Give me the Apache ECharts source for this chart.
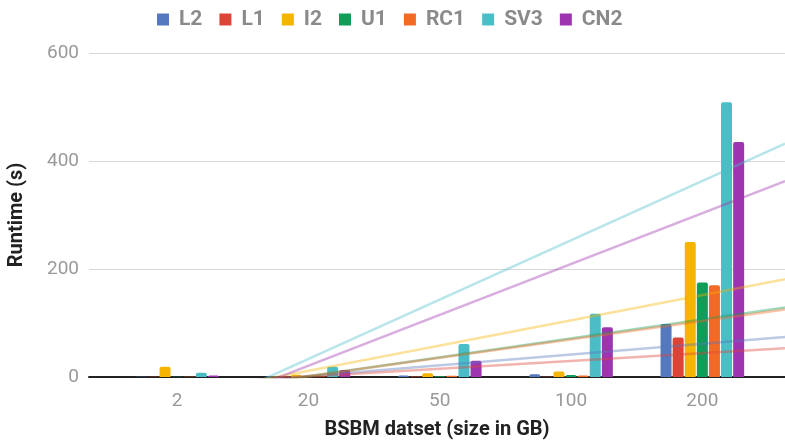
<!DOCTYPE html>
<html>
<head>
<meta charset="UTF-8">
<title>BSBM runtime</title>
<script src="https://cdn.jsdelivr.net/npm/echarts/dist/echarts.min.js"></script>
<style>
  body { margin: 0; padding: 0; background: #fff; }
  #main { width: 785px; height: 445px; }
</style>
</head>
<body>
<div id="main"></div>
<script type="text/javascript">
    // dataset sizes (GB)
    var categories = ['2', '20', '50', '100', '200'];
    var seriesNames = ['L2', 'L1', 'I2', 'U1', 'RC1', 'SV3', 'CN2'];
    var colors = ['#5579be', '#db4437', '#f4b400', '#0f9d58', '#f26b25', '#4bbdc7', '#9e35b0'];

    // runtime in seconds
    var L2  = [0.5, 1, 3, 5, 98];
    var L1  = [0.5, 1, 1, 0.5, 73];
    var I2  = [19, 4, 7, 10, 250];
    var U1  = [0.5, 1, 1.5, 3.5, 175];
    var RC1 = [0.5, 1, 2.5, 3, 170];
    var SV3 = [8, 19, 61, 117, 509];
    var CN2 = [3, 13, 30, 92, 435];
    var allData = [L2, L1, I2, U1, RC1, SV3, CN2];

    var yTicks = [0, 200, 400, 600];

    // linear trend over category index (like the sheet trendline)
    function trend(vals) {
        var n = vals.length, mx = 0, my = 0;
        vals.forEach(function (v, i) { mx += i; my += v; });
        mx /= n; my /= n;
        var sxy = 0, sxx = 0;
        vals.forEach(function (v, i) { sxy += (i - mx) * (v - my); sxx += (i - mx) * (i - mx); });
        var k = sxy / sxx;
        return function (x) { return my + k * (x - mx); };
    }

    var xMin = -0.663, xMax = 4.632;   // index range covered by the outer grid

    var chart = echarts.init(document.getElementById('main'));

    var series = [];
    seriesNames.forEach(function (name, i) {
        series.push({
            name: name,
            type: 'bar',
            xAxisIndex: 1,
            yAxisIndex: 1,
            barWidth: 11,
            barGap: '10%',
            itemStyle: { color: colors[i], borderRadius: [2, 2, 0, 0] },
            data: allData[i]
        });
    });
    seriesNames.forEach(function (name, i) {
        var f = trend(allData[i]);
        series.push({
            name: name,
            type: 'line',
            xAxisIndex: 0,
            yAxisIndex: 0,
            z: 5,
            showSymbol: false,
            symbol: 'none',
            silent: true,
            clip: true,
            lineStyle: { color: colors[i], width: 2.5, opacity: 0.4 },
            data: [[xMin, f(xMin)], [xMax, f(xMax)]]
        });
    });

    var option = {
        textStyle: { fontFamily: 'Roboto' },
        animation: false,
        legend: {
            data: seriesNames,
            top: 4,
            left: 152,
            icon: 'rect',
            itemWidth: 12,
            itemHeight: 12,
            itemGap: 17,
            textStyle: { color: '#8a8a8a', fontSize: 21, fontWeight: 'bold', padding: [0, 0, 0, 5] }
        },
        grid: [
            { left: 89, right: 0, top: 53, bottom: 68, outerBoundsMode: 'none', containLabel: false },
            { left: 111.5, right: 17, top: 53, bottom: 68, outerBoundsMode: 'none', containLabel: false }
        ],
        xAxis: [
            {
                type: 'value',
                gridIndex: 0,
                min: xMin,
                max: xMax,
                name: 'BSBM datset (size in GB)',
                nameLocation: 'middle',
                nameGap: 43,
                nameTextStyle: { color: '#222', fontSize: 20, fontWeight: 'bold' },
                axisLine: { show: true, onZero: false, lineStyle: { color: '#222', width: 2 } },
                axisTick: { show: false },
                axisLabel: { show: false },
                splitLine: { show: false }
            },
            {
                type: 'category',
                gridIndex: 1,
                data: categories,
                axisLine: { show: false },
                axisTick: { show: false },
                axisLabel: { color: '#999', fontSize: 19, margin: 15 }
            }
        ],
        yAxis: [
            {
                type: 'value',
                gridIndex: 0,
                min: 0,
                max: 600,
                interval: 200,
                name: 'Runtime (s)',
                nameLocation: 'middle',
                nameGap: 62,
                nameTextStyle: { color: '#222', fontSize: 20, fontWeight: 'bold' },
                axisLine: { show: false },
                axisTick: { show: false },
                axisLabel: {
                    color: '#999', fontSize: 19, margin: 10,
                    formatter: function (v) { return yTicks.indexOf(v) >= 0 ? String(v) : ''; }
                },
                splitLine: { lineStyle: { color: '#d9d9d9', width: 1 } }
            },
            {
                type: 'value',
                gridIndex: 1,
                min: 0,
                max: 600,
                show: false,
                splitLine: { show: false }
            }
        ],
        series: series
    };

    chart.setOption(option);
</script>
</body>
</html>
